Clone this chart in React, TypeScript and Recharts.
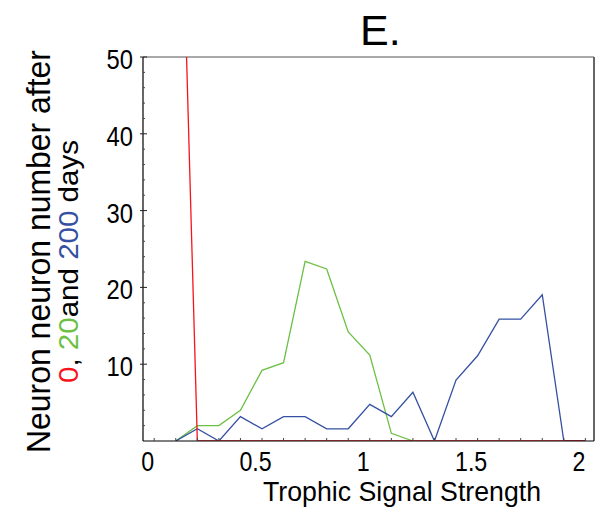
import { Label, Line, LineChart, ReferenceLine, XAxis, YAxis } from "recharts";

// trophic signal strength at each sample
const signal = [0.13, 0.23, 0.33, 0.43, 0.53, 0.63, 0.73, 0.83, 0.93, 1.03, 1.13, 1.23, 1.33, 1.43, 1.53, 1.63, 1.73, 1.83, 1.93, 2.03];
// neuron counts after 0, 20 and 200 days
const day0 = [100, 0, 0, 0, 0, 0, 0, 0, 0, 0, 0, 0, 0, 0, 0, 0, 0, 0, 0, 0];
const day20 = [0, 2, 2, 4, 9.2, 10.2, 23.4, 22.4, 14.2, 11.2, 1, 0, null, null, null, null, null, null, null, null];
const day200 = [0, 1.59, 0, 3.17, 1.59, 3.17, 3.17, 1.59, 1.59, 4.76, 3.17, 6.35, 0, 7.94, 11.1, 15.87, 15.87, 19.05, 0, 0];

const xLabelTicks = [0, 0.5, 1, 1.5, 2];
const xMinorTicks = [0.03, 0.13, 0.23, 0.33, 0.43, 0.53, 0.63, 0.73, 0.83, 0.93, 1.03, 1.13, 1.23, 1.33, 1.43, 1.53, 1.63, 1.73, 1.83, 1.93, 2.03];
const yLabelTicks = [10, 20, 30, 40, 50];
const yMinorTicks = [2, 4, 6, 8, 12, 14, 16, 18, 22, 24, 26, 28, 32, 34, 36, 38, 42, 44, 46, 48];

const data = signal.map((s, i) => ({ s, d0: day0[i], d20: day20[i], d200: day200[i] }));

const FONT = "'Liberation Sans', Arial, sans-serif";
const RED = "#f5141c";
const GREEN = "#6cc044";
const BLUE = "#3550a2";

function XTick({ x, y, payload }: any) {
  const v = payload.value;
  if (xLabelTicks.includes(v)) {
    // the original face is narrow, so squeeze it sideways
    return (
      <text
        transform={`translate(${x}, ${y + 30}) scale(0.86, 1)`}
        textAnchor="middle"
        fontSize={27}
        fontFamily={FONT}
        fill="#000"
      >
        {v}
      </text>
    );
  }
  return <line x1={x} x2={x} y1={y} y2={y - 3} stroke="#444" />;
}

function YTick({ x, y, payload }: any) {
  const v = payload.value;
  if (yLabelTicks.includes(v)) {
    return (
      <g>
        <line x1={x - 3} x2={x + 4} y1={y} y2={y} stroke="#222" />
        <text
          transform={`translate(${x - 10}, ${y + 12}) scale(0.88, 1)`}
          textAnchor="end"
          fontSize={27}
          fontFamily={FONT}
          fill="#000"
        >
          {v}
        </text>
      </g>
    );
  }
  return <line x1={x} x2={x + 2} y1={y} y2={y} stroke="#444" />;
}

function YTitle() {
  return (
    <g fontFamily={FONT}>
      <text
        transform="translate(42, 243.5) rotate(-90)"
        textAnchor="middle"
        fontSize={33}
        textLength={403}
        lengthAdjust="spacingAndGlyphs"
        fill="#000"
      >
        Neuron neuron number after
      </text>
      <text
        transform="translate(70, 253.5) rotate(-90)"
        textAnchor="middle"
        fontSize={27}
        textLength={243}
        lengthAdjust="spacingAndGlyphs"
        fill="#000"
      >
        <tspan fill={RED}>0</tspan>
        <tspan>, </tspan>
        <tspan fill={GREEN}>20</tspan>
        <tspan>and </tspan>
        <tspan fill={BLUE}>200</tspan>
        <tspan> days</tspan>
      </text>
    </g>
  );
}

export default function App() {
  return (
    <div style={{ position: "relative", width: 594, height: 502 }}>
      <div
        style={{
          position: "absolute",
          left: 352,
          top: -2,
          fontFamily: FONT,
          fontSize: 43,
          lineHeight: "48px",
          color: "#000",
        }}
      >
        E.
      </div>
      <LineChart width={594} height={502} data={data} margin={{ top: 49, right: 8, left: 75, bottom: 39 }}>
        <XAxis
          dataKey="s"
          type="number"
          domain={[-0.022, 2.07]}
          ticks={[...xLabelTicks, ...xMinorTicks]}
          interval={0}
          height={30}
          tickSize={0}
          tickMargin={0}
          tickLine={false}
          axisLine={{ stroke: "#000", strokeWidth: 1.2 }}
          tick={<XTick />}
        >
          <Label
            content={() => (
              <text
                x={394}
                y={493}
                textAnchor="middle"
                fontSize={28}
                fontFamily={FONT}
                textLength={278}
                lengthAdjust="spacingAndGlyphs"
                fill="#000"
              >
                Trophic Signal Strength
              </text>
            )}
          />
        </XAxis>
        <YAxis
          type="number"
          domain={[0, 50]}
          allowDataOverflow
          ticks={[...yMinorTicks, ...yLabelTicks]}
          interval={0}
          width={60}
          tickSize={0}
          tickMargin={0}
          tickLine={false}
          axisLine={{ stroke: "#000", strokeWidth: 1.2 }}
          tick={<YTick />}
        >
          <Label content={() => <YTitle />} />
        </YAxis>
        <ReferenceLine y={50} stroke="#555" strokeWidth={1.2} />
        <ReferenceLine x={2.07} stroke="#666" strokeWidth={2} />
        <Line dataKey="d20" stroke={GREEN} strokeWidth={1.3} dot={false} isAnimationActive={false} />
        <Line dataKey="d200" stroke={BLUE} strokeWidth={1.3} dot={false} isAnimationActive={false} />
        <Line dataKey="d0" stroke={RED} strokeWidth={1.3} dot={false} isAnimationActive={false} />
      </LineChart>
    </div>
  );
}
